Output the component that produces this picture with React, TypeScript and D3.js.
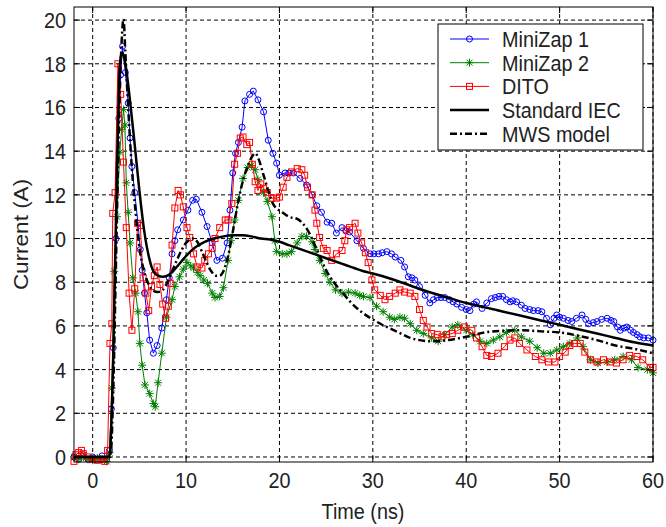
import React from 'react';
import * as d3 from 'd3';

type P = [number, number];

const xTicks = [0, 10, 20, 30, 40, 50, 60];
const yTicks = [0, 2, 4, 6, 8, 10, 12, 14, 16, 18, 20];
const legendLabels = ['MiniZap 1', 'MiniZap 2', 'DITO', 'Standard IEC', 'MWS model'];

// [time ns, current A]
const miniZap1: P[] = [[-2,0],[-1.5,-0.1],[-1,0.1],[-0.5,-0.1],[0,0],[0.5,-0.1],[1,0.05],[1.5,-0.1],[1.8,0.3],[2.0,2.2],[2.2,5],[2.5,10],[2.8,15.5],[3.0,17.5],[3.2,18.8],[3.5,17.6],[3.8,16.2],[4.0,14.6],[4.2,13.3],[4.5,12.1],[4.85,10.7],[5.1,9.5],[5.3,8.55],[5.55,7.5],[5.8,6.6],[6.1,5.35],[6.5,4.75],[6.9,5.1],[7.4,5.9],[7.9,7.2],[8.2,8.2],[8.5,9.3],[8.8,9.9],[9.1,10.4],[9.7,10.85],[10.2,11.3],[10.7,11.75],[11.1,11.8],[11.7,11.2],[12.25,10.55],[12.8,9.8],[13.3,9.0],[13.9,9.1],[14.4,9.8],[14.7,11.3],[15.0,13.0],[15.3,13.9],[15.6,14.4],[16.0,15.1],[16.3,16.3],[16.8,16.6],[17.2,16.75],[17.7,16.35],[18.3,15.8],[18.8,14.5],[19.3,13.9],[19.7,13.45],[20.0,12.9],[20.6,13.0],[21.0,13.0],[21.5,13.0],[22.2,12.75],[22.9,12.45],[23.5,12.0],[24.0,11.5],[24.5,11.2],[25.1,10.75],[25.6,10.7],[26.1,10.25],[26.7,10.5],[27.1,10.35],[27.5,10.3],[28.3,9.9],[29.0,9.55],[29.7,9.3],[30.1,9.3],[30.6,9.3],[31.0,9.35],[31.5,9.4],[32.0,9.3],[32.4,9.15],[33.0,9.0],[33.4,8.7],[33.8,8.25],[34.2,8.2],[34.5,8.1],[35.0,7.8],[35.6,7.4],[36.1,7.05],[36.5,7.2],[36.9,7.3],[37.3,7.3],[37.7,7.3],[38.2,7.2],[38.6,7.1],[39.0,7.0],[39.5,6.85],[40.0,6.75],[40.4,6.7],[40.8,7.0],[41.1,7.1],[41.7,6.8],[42.2,7.05],[42.7,7.25],[43.1,7.3],[43.5,7.35],[43.9,7.35],[44.3,7.2],[44.7,7.1],[45.0,7.15],[45.4,7.1],[45.9,6.95],[46.3,6.8],[46.8,6.75],[47.2,6.7],[47.7,6.7],[48.1,6.65],[48.6,6.35],[49.0,6.05],[49.4,6.35],[49.7,6.5],[50.0,6.4],[50.4,6.35],[50.9,6.25],[51.3,6.2],[51.8,6.35],[52.4,6.5],[52.8,6.3],[53.1,6.1],[53.6,6.15],[54.0,6.2],[54.5,6.3],[55.1,6.35],[55.5,6.25],[55.8,6.2],[56.2,5.95],[56.5,5.8],[56.9,5.9],[57.2,5.95],[57.6,5.8],[57.9,5.7],[58.3,5.6],[58.6,5.5],[59.0,5.45],[59.5,5.45],[60,5.35]];

const miniZap2: P[] = [[-2,0],[-1.5,-0.1],[-1,0],[-0.5,-0.1],[0,-0.15],[0.5,-0.05],[1,-0.1],[1.5,-0.2],[1.8,0.2],[2.05,3.15],[2.3,8.5],[2.6,11],[2.9,13.95],[3.1,15.0],[3.3,15.9],[3.45,15.2],[3.6,12.55],[3.8,11.2],[4.0,9.8],[4.3,8.2],[4.6,7.5],[4.85,6.65],[5.05,5.2],[5.3,4.2],[5.6,3.3],[6.1,2.9],[6.5,2.45],[6.7,2.3],[7.0,3.4],[7.4,4.75],[7.9,6.4],[8.5,7.2],[8.8,7.8],[9.3,8.25],[9.7,8.6],[10.1,8.9],[10.5,8.75],[10.8,8.65],[11.2,8.45],[11.5,8.3],[11.9,8.1],[12.3,7.95],[12.8,7.5],[13.1,7.3],[13.6,7.35],[14.0,7.75],[14.5,9.0],[14.8,9.9],[15.2,10.85],[15.6,11.75],[16.1,12.75],[16.6,13.25],[17.0,13.35],[17.4,13.15],[17.7,12.7],[18.3,12.1],[18.7,11.7],[19.2,11.0],[19.5,9.9],[19.7,9.4],[20.3,9.3],[20.8,9.3],[21.3,9.4],[21.9,9.8],[22.4,10.1],[22.9,10.1],[23.5,9.85],[23.8,9.5],[24.3,9.0],[24.9,8.4],[25.4,8.0],[26.0,7.65],[26.7,7.5],[27.4,7.55],[28.1,7.5],[28.6,7.4],[29.0,7.35],[29.7,7.3],[30.4,6.9],[31.1,6.65],[31.8,6.4],[32.3,6.3],[32.9,6.4],[33.4,6.35],[34.0,6.1],[34.7,5.8],[35.4,5.65],[36.3,5.45],[37.0,5.3],[37.7,5.6],[38.5,5.95],[39.1,6.05],[40.0,5.8],[40.7,5.6],[41.5,5.3],[42.2,5.2],[42.9,5.35],[43.6,5.5],[44.3,5.7],[45.2,5.8],[45.9,5.5],[46.8,5.3],[47.6,5.0],[48.3,4.75],[49.0,4.75],[49.7,4.9],[50.4,5.05],[51.1,5.2],[51.9,5.45],[52.5,5.05],[53.3,4.45],[54.1,4.3],[55.1,4.35],[55.9,4.45],[56.8,4.6],[57.7,4.45],[58.4,4.1],[59.4,4.0],[60,3.85]];

const dito: P[] = [[-2,-0.2],[-1.8,0.1],[-1.5,0.2],[-1.2,0.3],[-1,0.15],[-0.5,0],[0,-0.1],[0.5,-0.15],[1,-0.1],[1.3,-0.2],[1.6,0.3],[1.85,5.2],[2.05,6.1],[2.15,11.15],[2.4,12.1],[2.7,18.0],[3.0,16.6],[3.3,13.5],[3.6,10.5],[3.9,7.5],[4.2,5.8],[4.5,7.7],[4.8,10.7],[5.1,10.6],[5.4,8.2],[5.7,7.5],[6.0,6.7],[6.3,7.8],[6.6,8.3],[6.9,8.7],[7.2,7.9],[7.5,7.0],[7.8,6.35],[8.1,6.9],[8.3,7.95],[8.5,9.7],[8.8,11.4],[9.15,12.2],[9.4,12.0],[9.7,11.45],[10.1,10.5],[10.4,10.05],[10.8,9.3],[11.2,8.7],[11.7,8.65],[12.0,9.0],[12.4,9.3],[12.8,9.55],[13.1,10.0],[13.6,10.5],[14.2,10.85],[14.5,10.85],[14.9,11.6],[15.2,13.4],[15.5,13.9],[15.8,14.6],[16.1,14.65],[16.5,14.3],[16.8,14.4],[17.1,13.4],[17.4,12.6],[17.7,12.2],[18.0,12.5],[18.3,12.3],[18.7,12.1],[19.2,11.85],[19.7,11.85],[20.0,11.9],[20.4,12.35],[20.8,12.8],[21.3,13.05],[21.9,13.2],[22.4,13.15],[22.7,12.9],[23.0,12.35],[23.5,12.0],[23.8,11.3],[24.0,10.7],[24.3,10.05],[24.7,9.55],[25.1,9.45],[25.6,9.0],[26.1,9.3],[26.7,9.45],[27.0,9.9],[27.2,10.4],[27.5,10.5],[28.1,10.7],[28.4,10.25],[28.8,9.8],[29.2,9.35],[29.5,8.9],[29.9,8.1],[30.2,7.65],[30.8,7.4],[31.3,7.2],[31.8,7.35],[32.4,7.5],[32.9,7.65],[33.4,7.55],[34.0,7.5],[34.5,7.35],[35.0,6.75],[35.4,6.25],[35.8,5.95],[36.3,5.65],[36.9,5.6],[37.4,5.5],[37.9,5.6],[38.5,5.65],[39.1,5.8],[39.8,5.95],[40.6,5.8],[41.1,5.45],[41.7,5.05],[42.2,4.65],[42.7,4.6],[43.4,4.75],[44.1,5.05],[44.7,5.35],[45.2,5.45],[45.7,5.2],[46.5,4.9],[47.4,4.6],[48.1,4.45],[48.8,4.35],[49.5,4.35],[50.0,4.6],[50.6,4.8],[51.1,5.1],[51.6,5.2],[52.2,5.2],[52.7,4.8],[53.3,4.45],[54.0,4.35],[54.7,4.45],[55.4,4.35],[56.1,4.3],[56.8,4.45],[57.5,4.65],[58.3,4.6],[58.9,4.45],[59.7,4.1],[60,4.1]];

const standardIEC: P[] = [[-2,0],[1.8,0],[2.0,1.5],[2.2,4.5],[2.5,11],[2.8,16.8],[3.0,18.3],[3.2,18.5],[3.5,18.0],[4.0,16.3],[4.5,14.3],[5.0,12.2],[5.5,10.4],[6.0,9.2],[6.5,8.5],[7.0,8.3],[7.5,8.25],[8.0,8.3],[8.5,8.45],[9.0,8.7],[9.5,8.95],[10.0,9.2],[11,9.6],[12,9.85],[13,10.0],[14,10.1],[15,10.15],[16,10.15],[17,10.1],[18,10.0],[19,9.95],[20,9.85],[21,9.7],[22,9.55],[23,9.4],[24,9.25],[25,9.1],[26,8.95],[27,8.8],[28,8.65],[29,8.5],[30,8.4],[32,8.15],[34,7.85],[36,7.55],[38,7.3],[40,7.05],[42,6.85],[44,6.65],[46,6.45],[48,6.25],[50,6.05],[52,5.85],[54,5.65],[56,5.45],[58,5.25],[60,5.1]];

const mwsModel: P[] = [[-2,0],[1.9,0],[2.2,3],[2.5,9],[2.8,15],[3.1,19],[3.3,20.05],[3.5,18.5],[3.8,16],[4.2,13.2],[4.6,11.2],[5.0,9.6],[5.5,8.5],[6.0,7.9],[6.5,7.6],[7.0,7.55],[7.5,7.65],[8.0,8.0],[8.5,8.5],[9.0,9.0],[9.5,9.45],[10.0,9.8],[10.7,10.0],[11.2,9.85],[11.7,9.4],[12.2,8.9],[12.7,8.5],[13.2,8.3],[13.6,8.3],[14.0,8.5],[14.5,9.2],[15.0,10.3],[15.5,11.5],[16.0,12.5],[16.5,13.2],[17.0,13.7],[17.4,13.9],[17.8,13.6],[18.3,12.9],[18.8,12.2],[19.3,11.6],[20.3,11.2],[21.0,11.0],[21.9,10.9],[23.0,10.4],[24.0,9.5],[25.0,8.55],[25.4,8.25],[26.0,7.9],[26.8,7.5],[27.6,7.1],[28.6,6.7],[29.6,6.4],[30.8,6.1],[32,5.85],[33,5.65],[34,5.45],[35,5.35],[36,5.3],[37,5.3],[38,5.35],[39,5.42],[40,5.5],[42,5.7],[44,5.78],[46,5.8],[48,5.75],[50,5.7],[52,5.55],[54,5.35],[56,5.1],[58,4.95],[60,4.75]];

const FONT = "'Liberation Sans', Arial, Helvetica, sans-serif";
const SX = 0.88;
const FS = 22.5;
const TEXT_COLOR = '#222';

const L = 74, R = 653, T = 7, B = 462;

function HText({ x, y, anchor = 'start', children }: any) {
  return (
    <g transform={`translate(${x},${y}) scale(${SX},1)`}>
      <text textAnchor={anchor} fontSize={FS} fontFamily={FONT} fill={TEXT_COLOR}>{children}</text>
    </g>
  );
}

function Marker({ kind, cx, cy, color }: { kind: string; cx: number; cy: number; color: string }) {
  if (kind === 'circle') return <circle cx={cx} cy={cy} r={3} fill="none" stroke={color} strokeWidth={1} />;
  if (kind === 'square') return <rect x={cx - 3} y={cy - 3} width={6} height={6} fill="none" stroke={color} strokeWidth={1} />;
  const s = 4, d = 3;
  return (
    <g stroke={color} strokeWidth={1}>
      <line x1={cx - s} y1={cy} x2={cx + s} y2={cy} />
      <line x1={cx} y1={cy - s} x2={cx} y2={cy + s} />
      <line x1={cx - d} y1={cy - d} x2={cx + d} y2={cy + d} />
      <line x1={cx - d} y1={cy + d} x2={cx + d} y2={cy - d} />
    </g>
  );
}

export default function App() {
  const x = d3.scaleLinear().domain([-2, 60]).range([L, R]);
  const y = d3.scaleLinear().domain([-0.23, 20.6]).range([B, T]);
  const line = d3.line<P>().x(d => x(d[0])).y(d => y(d[1]));
  const smooth = d3.line<P>().x(d => x(d[0])).y(d => y(d[1])).curve(d3.curveMonotoneX);

  const marked = [
    { data: miniZap1, color: '#0000ff', kind: 'circle' },
    { data: miniZap2, color: '#008000', kind: 'star' },
    { data: dito, color: '#ff0000', kind: 'square' },
  ];

  const legendStyles = [
    { color: '#0000ff', kind: 'circle', dash: undefined, w: 1 },
    { color: '#008000', kind: 'star', dash: undefined, w: 1 },
    { color: '#ff0000', kind: 'square', dash: undefined, w: 1 },
    { color: '#000', kind: '', dash: undefined, w: 2.5 },
    { color: '#000', kind: '', dash: '7 3 2 3', w: 2.5 },
  ];

  const lgX = 438, lgY = 24, lgW = 205, lgH = 126;

  return (
    <svg width={666} height={527} style={{ position: 'absolute', left: 0, top: 0, background: '#fff' }}>
      <rect x={0} y={0} width={666} height={527} fill="#fff" />
      <g stroke="#000" strokeWidth={1} strokeDasharray="4 3">
        {xTicks.map(t => <line key={'gx' + t} x1={x(t)} x2={x(t)} y1={T} y2={B} />)}
        {yTicks.map(t => <line key={'gy' + t} x1={L} x2={R} y1={y(t)} y2={y(t)} />)}
      </g>
      {marked.map((s, i) => (
        <g key={'s' + i}>
          <path d={line(s.data) || ''} fill="none" stroke={s.color} strokeWidth={1} />
          {s.data.map((d, j) => <Marker key={j} kind={s.kind} cx={x(d[0])} cy={y(d[1])} color={s.color} />)}
        </g>
      ))}
      <path d={smooth(standardIEC) || ''} fill="none" stroke="#000" strokeWidth={2.5} />
      <path d={smooth(mwsModel) || ''} fill="none" stroke="#000" strokeWidth={2.5} strokeDasharray="7 3 2 3" />
      <rect x={L} y={T} width={R - L} height={B - T} fill="none" stroke="#000" strokeWidth={1} />
      <g stroke="#000" strokeWidth={1}>
        {xTicks.map(t => <g key={'tx' + t}>
          <line x1={x(t)} x2={x(t)} y1={B} y2={B - 6} />
          <line x1={x(t)} x2={x(t)} y1={T} y2={T + 6} />
        </g>)}
        {yTicks.map(t => <g key={'ty' + t}>
          <line x1={L} x2={L + 6} y1={y(t)} y2={y(t)} />
          <line x1={R} x2={R - 6} y1={y(t)} y2={y(t)} />
        </g>)}
      </g>
      {xTicks.map(t => <HText key={'lx' + t} x={x(t)} y={488} anchor="middle">{t}</HText>)}
      {yTicks.map(t => <HText key={'ly' + t} x={66} y={y(t) + 8} anchor="end">{t}</HText>)}
      <HText x={363} y={519} anchor="middle">Time (ns)</HText>
      <g transform={`translate(28,${(T + B) / 2}) rotate(-90) scale(1,${SX})`}>
        <text textAnchor="middle" fontSize={FS} fontFamily={FONT} fill={TEXT_COLOR}>Current (A)</text>
      </g>
      <rect x={lgX} y={lgY} width={lgW} height={lgH} fill="#fff" stroke="#000" strokeWidth={1} />
      {legendLabels.map((lab, i) => {
        const cy = 39 + i * 23.7;
        const st = legendStyles[i];
        return (
          <g key={'lg' + i}>
            <line x1={450} x2={489} y1={cy} y2={cy} stroke={st.color} strokeWidth={st.w} strokeDasharray={st.dash} />
            {st.kind && <Marker kind={st.kind} cx={469.5} cy={cy} color={st.color} />}
            <HText x={502} y={cy + 8}>{lab}</HText>
          </g>
        );
      })}
    </svg>
  );
}
